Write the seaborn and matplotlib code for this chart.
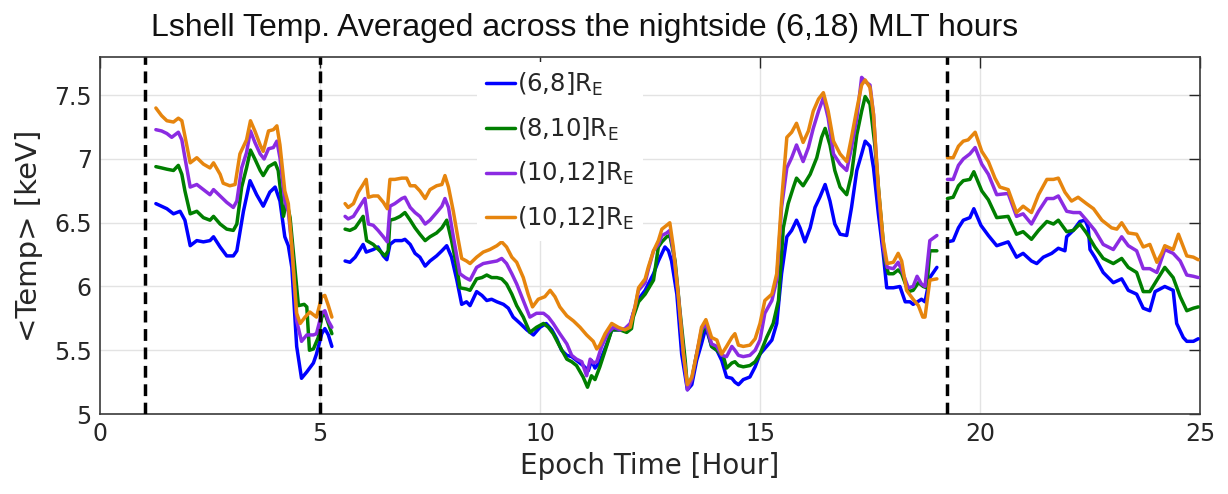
import matplotlib
matplotlib.use("Agg")
import matplotlib.pyplot as plt
from matplotlib.lines import Line2D
import pandas as pd
import seaborn as sns

# ---- Epoch time [hour] / mean temperature [keV], three observation segments per band ----
blue_t = [
    [1.27, 1.52, 1.67, 1.82, 1.93, 2.05, 2.20, 2.35, 2.50, 2.58, 2.73, 2.88, 3.03, 3.11, 3.26, 3.41, 3.56,
     3.71, 3.86, 3.98, 4.09, 4.20, 4.28, 4.36, 4.47, 4.58, 4.70, 4.85, 4.92, 5.04, 5.11, 5.19, 5.27],
    [5.57, 5.68, 5.80, 5.98, 6.05, 6.21, 6.32, 6.44, 6.52, 6.59, 6.70, 6.86, 6.93, 7.05, 7.16, 7.27, 7.39,
     7.50, 7.65, 7.77, 7.88, 7.99, 8.11, 8.22, 8.33, 8.41, 8.56, 8.68, 8.79, 8.90, 9.02, 9.17, 9.28, 9.39,
     9.55, 9.70, 9.85, 10.00, 10.14, 10.27, 10.38, 10.49,
     10.61, 10.72, 10.83, 10.98, 11.10, 11.17, 11.25, 11.36, 11.52, 11.63, 11.82, 11.97,
     12.05, 12.12, 12.24, 12.39, 12.58, 12.69, 12.84, 12.92, 12.99, 13.11, 13.22, 13.35, 13.45, 13.56,
     13.67, 13.77, 13.90, 14.02, 14.13, 14.24, 14.36, 14.43, 14.51, 14.62, 14.77, 14.89, 15.00, 15.15,
     15.27, 15.38, 15.49, 15.61, 15.72, 15.83, 15.91, 16.02, 16.14, 16.25, 16.36, 16.48, 16.59, 16.70,
     16.82, 16.97, 17.08, 17.20, 17.31, 17.39, 17.50, 17.58, 17.69, 17.80,
     17.88, 18.03, 18.18, 18.30, 18.41, 18.48, 18.58, 18.67, 18.75, 18.86, 19.02],
    [19.26, 19.39, 19.51, 19.62, 19.77, 19.86, 20.02, 20.19, 20.38, 20.64, 20.83, 20.98, 21.17, 21.29,
     21.44, 21.63, 21.78, 21.93, 21.97, 22.12, 22.27, 22.39, 22.46, 22.50, 22.61, 22.80, 23.03, 23.22,
     23.37, 23.56, 23.71, 23.86, 23.98, 24.20, 24.39, 24.47, 24.62, 24.70, 24.85, 24.96],
]
blue_v = [
    [6.65, 6.61, 6.57, 6.59, 6.52, 6.32, 6.36, 6.35, 6.36, 6.39, 6.31, 6.24, 6.24, 6.28, 6.59, 6.83, 6.72,
     6.63, 6.74, 6.78, 6.67, 6.39, 6.32, 6.15, 5.53, 5.28, 5.33, 5.40, 5.47, 5.63, 5.67, 5.62, 5.53],
    [6.20, 6.19, 6.23, 6.33, 6.27, 6.29, 6.31, 6.24, 6.21, 6.33, 6.36, 6.36, 6.37, 6.33, 6.26, 6.23, 6.16,
     6.20, 6.24, 6.28, 6.32, 6.23, 6.05, 5.86, 5.88, 5.85, 5.96, 5.93, 5.89, 5.90, 5.88, 5.86, 5.83, 5.76,
     5.71, 5.66, 5.62, 5.68, 5.71, 5.66, 5.59, 5.50,
     5.46, 5.45, 5.42, 5.38, 5.34, 5.42, 5.36, 5.41, 5.55, 5.66, 5.66, 5.66,
     5.70, 5.79, 5.90, 5.97, 6.10, 6.20, 6.31, 6.28, 6.20, 5.94, 5.47, 5.19, 5.23, 5.42,
     5.55, 5.68, 5.53, 5.50, 5.42, 5.29, 5.28, 5.25, 5.23, 5.27, 5.29, 5.37, 5.47, 5.53,
     5.58, 5.71, 6.10, 6.39, 6.44, 6.52, 6.46, 6.35, 6.46, 6.62, 6.70, 6.80, 6.67, 6.49,
     6.41, 6.40, 6.62, 6.91, 7.04, 7.14, 7.10, 6.93, 6.57, 6.26,
     5.99, 5.99, 6.00, 5.88, 5.88, 5.86, 5.88, 5.90, 5.88, 6.07, 6.15],
    [6.35, 6.36, 6.46, 6.52, 6.54, 6.61, 6.48, 6.40, 6.32, 6.35, 6.23, 6.26, 6.20, 6.18,
     6.23, 6.26, 6.30, 6.28, 6.39, 6.44, 6.51, 6.52, 6.46, 6.29, 6.23, 6.11, 6.03, 6.06,
     5.97, 5.94, 5.83, 5.81, 5.96, 6.00, 5.97, 5.71, 5.60, 5.57, 5.57, 5.59],
]

green_t = [
    [1.27, 1.40, 1.52, 1.67, 1.78, 1.86, 1.93, 2.05, 2.20, 2.35, 2.50, 2.58, 2.73, 2.88, 3.03, 3.11, 3.22,
     3.33, 3.42, 3.52, 3.64, 3.71, 3.83, 3.98, 4.05, 4.17, 4.24, 4.32, 4.51, 4.64, 4.70, 4.76, 4.85, 4.96,
     5.04, 5.11, 5.19, 5.27],
    [5.57, 5.68, 5.80, 5.98, 6.06, 6.21, 6.36, 6.48, 6.55, 6.59, 6.70, 6.82, 6.93, 7.05, 7.16, 7.27, 7.39,
     7.50, 7.65, 7.77, 7.88, 7.99, 8.11, 8.18, 8.33, 8.41, 8.56, 8.68, 8.79, 8.90, 9.02, 9.13, 9.24, 9.36,
     9.47, 9.62, 9.77, 9.92, 10.08, 10.19, 10.30, 10.45,
     10.61, 10.72, 10.83, 10.98, 11.08, 11.17, 11.25, 11.36, 11.52, 11.63, 11.82, 11.97, 12.08,
     12.12, 12.24, 12.39, 12.58, 12.69, 12.77, 12.88, 12.95, 13.07, 13.18, 13.30, 13.35, 13.45, 13.56,
     13.67, 13.77, 13.90, 14.02, 14.17, 14.24, 14.36, 14.43, 14.51, 14.62, 14.77, 14.89, 15.00, 15.15,
     15.30, 15.42, 15.53, 15.64, 15.76, 15.83, 15.98, 16.14, 16.29, 16.40, 16.48, 16.59, 16.70, 16.82,
     16.97, 17.08, 17.20, 17.31, 17.39, 17.50, 17.61, 17.73, 17.84, 17.92,
     18.03, 18.14, 18.22, 18.37, 18.48, 18.60, 18.71, 18.79, 18.86, 19.02],
    [19.26, 19.39, 19.51, 19.62, 19.77, 19.86, 20.04, 20.19, 20.38, 20.64, 20.83, 20.98, 21.17, 21.33,
     21.52, 21.67, 21.78, 21.97, 22.12, 22.27, 22.42, 22.61, 22.80, 23.03, 23.22, 23.37, 23.56, 23.71,
     23.86, 24.02, 24.20, 24.39, 24.55, 24.70, 24.85, 24.96],
]
green_v = [
    [6.94, 6.93, 6.92, 6.91, 6.95, 6.88, 6.75, 6.57, 6.59, 6.54, 6.52, 6.55, 6.49, 6.45, 6.44, 6.49, 6.78,
     6.93, 7.07, 7.00, 6.91, 6.87, 6.94, 6.97, 6.91, 6.55, 6.67, 6.54, 5.85, 5.86, 5.84, 5.50, 5.51, 5.60,
     5.76, 5.79, 5.71, 5.63],
    [6.45, 6.44, 6.46, 6.55, 6.36, 6.33, 6.28, 6.24, 6.28, 6.52, 6.53, 6.55, 6.58, 6.52, 6.46, 6.41, 6.36,
     6.39, 6.42, 6.46, 6.52, 6.36, 6.15, 5.99, 5.98, 5.97, 6.06, 6.07, 6.09, 6.07, 6.07, 6.06, 6.02, 5.94,
     5.85, 5.76, 5.64, 5.68, 5.71, 5.68, 5.63, 5.53,
     5.43, 5.41, 5.38, 5.29, 5.21, 5.30, 5.27, 5.37, 5.54, 5.66, 5.66, 5.64, 5.67,
     5.76, 5.88, 5.94, 6.05, 6.31, 6.35, 6.39, 6.40, 6.20, 5.81, 5.42, 5.21, 5.27, 5.47,
     5.63, 5.71, 5.53, 5.50, 5.45, 5.36, 5.40, 5.41, 5.38, 5.37, 5.38, 5.41, 5.47, 5.60,
     5.71, 5.89, 6.46, 6.65, 6.78, 6.85, 6.79, 6.88, 7.01, 7.17, 7.24, 7.11, 6.91, 6.78,
     6.72, 6.88, 7.19, 7.375, 7.49, 7.43, 7.11, 6.62, 6.20, 6.10,
     6.10, 6.13, 6.10, 5.96, 5.97, 6.03, 6.00, 5.99, 6.28, 6.28],
    [6.69, 6.70, 6.79, 6.83, 6.84, 6.90, 6.75, 6.68, 6.54, 6.55, 6.41, 6.43, 6.37, 6.44,
     6.51, 6.49, 6.52, 6.43, 6.44, 6.49, 6.42, 6.31, 6.22, 6.18, 6.22, 6.15, 6.11, 5.96,
     5.96, 6.05, 6.15, 6.07, 5.92, 5.81, 5.83, 5.84],
]

purple_t = [
    [1.27, 1.40, 1.52, 1.63, 1.78, 1.86, 1.93, 2.05, 2.20, 2.35, 2.50, 2.58, 2.73, 2.88, 3.03, 3.11, 3.22,
     3.33, 3.42, 3.52, 3.64, 3.73, 3.83, 3.94, 4.02, 4.09, 4.20, 4.28, 4.36, 4.47, 4.58, 4.70, 4.85, 4.92,
     5.04, 5.11, 5.19, 5.27],
    [5.57, 5.64, 5.76, 5.87, 5.98, 6.02, 6.10, 6.21, 6.32, 6.44, 6.53, 6.59, 6.70, 6.86, 6.93, 7.05, 7.16,
     7.27, 7.39, 7.50, 7.65, 7.77, 7.84, 7.92, 8.03, 8.18, 8.30, 8.41, 8.56, 8.71, 8.86, 9.02, 9.13, 9.24,
     9.36, 9.47, 9.62, 9.77, 9.92, 10.08, 10.19, 10.30, 10.45,
     10.61, 10.72, 10.83, 10.95, 11.06, 11.14, 11.21, 11.29, 11.40, 11.55, 11.67, 11.82, 11.93, 12.05,
     12.16, 12.24, 12.39, 12.46, 12.58, 12.69, 12.77, 12.88, 12.95, 13.03, 13.14, 13.26, 13.35, 13.45,
     13.56, 13.67, 13.77, 13.90, 14.02, 14.13, 14.24, 14.36, 14.43, 14.51, 14.62, 14.77, 14.89, 15.00,
     15.11, 15.27, 15.38, 15.49, 15.61, 15.72, 15.83, 15.98, 16.10, 16.21, 16.33, 16.44, 16.55, 16.67,
     16.82, 16.97, 17.08, 17.20, 17.31, 17.42, 17.50, 17.58, 17.69, 17.80, 17.89,
     18.03, 18.14, 18.22, 18.37, 18.48, 18.57, 18.67, 18.75, 18.86, 19.02],
    [19.26, 19.39, 19.51, 19.62, 19.77, 19.89, 20.04, 20.19, 20.38, 20.64, 20.83, 20.98, 21.17, 21.33,
     21.52, 21.67, 21.78, 21.97, 22.12, 22.27, 22.42, 22.61, 22.80, 23.03, 23.22, 23.37, 23.56, 23.71,
     23.86, 24.02, 24.20, 24.39, 24.55, 24.70, 24.85, 24.96],
]
purple_v = [
    [7.23, 7.22, 7.20, 7.17, 7.21, 7.15, 7.01, 6.78, 6.80, 6.76, 6.72, 6.76, 6.71, 6.66, 6.62, 6.67, 6.93,
     7.05, 7.22, 7.13, 7.04, 7.00, 7.08, 7.09, 7.14, 7.01, 6.67, 6.59, 6.31, 5.73, 5.57, 5.62, 5.62, 5.63,
     5.79, 5.81, 5.73, 5.68],
    [6.55, 6.53, 6.55, 6.61, 6.67, 6.69, 6.49, 6.48, 6.44, 6.39, 6.35, 6.63, 6.65, 6.69, 6.70, 6.62, 6.58,
     6.55, 6.49, 6.52, 6.58, 6.63, 6.69, 6.62, 6.39, 6.10, 6.07, 6.05, 6.15, 6.18, 6.19, 6.20, 6.22, 6.18,
     6.10, 6.02, 5.89, 5.76, 5.79, 5.79, 5.76, 5.71, 5.63,
     5.55, 5.46, 5.43, 5.41, 5.30, 5.43, 5.40, 5.41, 5.53, 5.64, 5.68, 5.66, 5.67, 5.71,
     5.84, 5.97, 6.03, 6.13, 6.28, 6.33, 6.40, 6.42, 6.44, 6.28, 5.94, 5.47, 5.19, 5.27,
     5.47, 5.66, 5.71, 5.55, 5.53, 5.46, 5.45, 5.53, 5.50, 5.46, 5.45, 5.46, 5.50, 5.58,
     5.79, 5.89, 6.05, 6.62, 6.93, 7.01, 7.11, 6.98, 7.09, 7.24, 7.375, 7.48, 7.32, 7.04,
     6.96, 6.91, 7.09, 7.32, 7.64, 7.60, 7.58, 7.35, 6.75, 6.31, 6.15,
     6.14, 6.19, 6.13, 5.99, 6.00, 6.08, 6.02, 6.00, 6.36, 6.40],
    [6.84, 6.84, 6.95, 7.00, 7.04, 7.09, 6.96, 6.88, 6.72, 6.73, 6.55, 6.57, 6.49, 6.59,
     6.69, 6.69, 6.71, 6.59, 6.58, 6.58, 6.52, 6.44, 6.33, 6.29, 6.39, 6.32, 6.28, 6.14,
     6.14, 6.11, 6.29, 6.26, 6.20, 6.09, 6.08, 6.07],
]

orange_t = [
    [1.27, 1.40, 1.52, 1.67, 1.78, 1.86, 1.93, 2.05, 2.20, 2.35, 2.50, 2.58, 2.73, 2.80, 2.95, 3.07, 3.18,
     3.33, 3.42, 3.52, 3.64, 3.71, 3.83, 3.94, 4.02, 4.09, 4.20, 4.28, 4.36, 4.47, 4.55, 4.66, 4.77, 4.92,
     5.04, 5.11, 5.19, 5.27],
    [5.57, 5.64, 5.76, 5.87, 5.98, 6.05, 6.10, 6.21, 6.32, 6.44, 6.53, 6.59, 6.70, 6.86, 6.97, 7.05, 7.16,
     7.27, 7.39, 7.50, 7.65, 7.77, 7.84, 7.92, 8.03, 8.14, 8.22, 8.33, 8.41, 8.56, 8.71, 8.86, 9.02, 9.13,
     9.24, 9.36, 9.47, 9.62, 9.73, 9.83, 9.96, 10.11, 10.23, 10.34, 10.45, 10.61, 10.76, 10.91, 11.06,
     11.21, 11.29, 11.36, 11.48, 11.63,
     11.78, 11.93, 12.05, 12.16, 12.24, 12.39, 12.46, 12.58, 12.69, 12.77, 12.88, 12.95, 13.03, 13.14,
     13.26, 13.35, 13.45, 13.56, 13.67, 13.77, 13.90, 14.02, 14.13, 14.24, 14.36, 14.43, 14.51, 14.62,
     14.77, 14.89, 15.00, 15.11, 15.27, 15.38, 15.49, 15.61, 15.72, 15.83, 15.98, 16.10, 16.21, 16.33,
     16.44, 16.55, 16.67, 16.82, 16.97, 17.08, 17.20, 17.31, 17.39, 17.50, 17.58, 17.69, 17.80, 17.89,
     18.03, 18.14, 18.22, 18.33, 18.48, 18.60, 18.70, 18.75, 18.86, 19.02],
    [19.26, 19.39, 19.51, 19.62, 19.73, 19.89, 20.04, 20.19, 20.34, 20.45, 20.64, 20.83, 20.98, 21.17,
     21.33, 21.52, 21.67, 21.78, 21.93, 22.08, 22.23, 22.42, 22.58, 22.77, 22.99, 23.11, 23.22, 23.37,
     23.56, 23.71, 23.86, 24.02, 24.13, 24.20, 24.39, 24.51, 24.70, 24.85, 24.96],
]
orange_v = [
    [7.40, 7.34, 7.30, 7.29, 7.32, 7.30, 7.18, 6.97, 7.01, 6.96, 6.93, 6.97, 6.88, 6.81, 6.79, 6.80, 7.04,
     7.15, 7.30, 7.22, 7.11, 7.06, 7.22, 7.23, 7.26, 7.11, 6.75, 6.65, 6.31, 5.79, 5.71, 5.76, 5.80, 5.76,
     5.92, 5.93, 5.85, 5.76],
    [6.65, 6.62, 6.65, 6.74, 6.80, 6.84, 6.70, 6.71, 6.71, 6.66, 6.61, 6.84, 6.84, 6.85, 6.85, 6.79, 6.79,
     6.75, 6.69, 6.76, 6.79, 6.80, 6.87, 6.78, 6.59, 6.37, 6.22, 6.20, 6.18, 6.23, 6.27, 6.29, 6.32, 6.35,
     6.31, 6.23, 6.19, 6.07, 5.94, 5.84, 5.90, 5.92, 5.97, 5.92, 5.84, 5.77, 5.73, 5.68, 5.62,
     5.57, 5.51, 5.54, 5.63, 5.71,
     5.68, 5.66, 5.68, 5.84, 5.99, 6.06, 6.15, 6.28, 6.36, 6.45, 6.48, 6.50, 6.31, 5.94,
     5.47, 5.23, 5.29, 5.47, 5.68, 5.74, 5.60, 5.58, 5.47, 5.53, 5.60, 5.63, 5.54, 5.53,
     5.54, 5.59, 5.71, 5.89, 5.94, 6.10, 6.67, 7.17, 7.21, 7.28, 7.13, 7.22, 7.375, 7.47,
     7.52, 7.375, 7.14, 7.04, 6.98, 7.17, 7.39, 7.58, 7.62, 7.56, 7.35, 6.78, 6.36, 6.18,
     6.19, 6.26, 6.20, 5.97, 5.90, 5.85, 5.76, 5.76, 6.05, 6.06],
    [7.01, 7.01, 7.10, 7.14, 7.15, 7.21, 7.06, 6.98, 6.85, 6.78, 6.76, 6.58, 6.63, 6.58,
     6.72, 6.84, 6.84, 6.85, 6.74, 6.67, 6.70, 6.65, 6.61, 6.52, 6.46, 6.45, 6.50, 6.42,
     6.41, 6.31, 6.33, 6.19, 6.26, 6.32, 6.29, 6.41, 6.24, 6.23, 6.21],
]

band_keys = ["r6_8", "r8_10", "r10_12a", "r10_12b"]
band_labels = [r"(6,8]R$_\mathregular{E}$", r"(8,10]R$_\mathregular{E}$",
               r"(10,12]R$_\mathregular{E}$", r"(10,12]R$_\mathregular{E}$"]
band_colors = ["#0000FF", "#007F00", "#8B2BE2", "#E6850E"]
event_hours = [1.02, 5.0, 19.24]
x_ticks = [0, 5, 10, 15, 20, 25]
y_ticks = [5, 5.5, 6, 6.5, 7, 7.5]

rows = []
for key, ts, vs in zip(band_keys, [blue_t, green_t, purple_t, orange_t],
                       [blue_v, green_v, purple_v, orange_v]):
    for seg, (t, v) in enumerate(zip(ts, vs)):
        for h, val in zip(t, v):
            rows.append({"band": key, "seg": seg, "hour": h, "temp": val})
df = pd.DataFrame(rows)

sns.set_style("white")
plt.rcParams["font.family"] = ["DejaVu Sans"]
plt.rcParams["mathtext.default"] = "regular"

fig = plt.figure(figsize=(12.28, 4.94), dpi=100)
ax = fig.add_axes([100 / 1228, 80 / 494, 1100 / 1228, 357 / 494])

for x in x_ticks[1:-1]:
    ax.axvline(x, color="#e3e3e3", lw=1.0, zorder=0)
for y in y_ticks[1:]:
    ax.axhline(y, color="#e3e3e3", lw=1.0, zorder=0)

sns.lineplot(data=df, x="hour", y="temp", hue="band", hue_order=band_keys,
             units="seg", estimator=None, sort=False,
             palette=dict(zip(band_keys, band_colors)), linewidth=2.5,
             legend=False, ax=ax, zorder=3)

for h in event_hours:
    ax.axvline(h, color="black", lw=2.5, ls=(0, (3.4, 1.9)), zorder=4)

ax.set_xlim(0, 25)
ax.set_ylim(5, 7.8)
ax.set_xticks(x_ticks)
ax.set_yticks(y_ticks)
ax.set_xticklabels([str(v) for v in x_ticks])
ax.set_yticklabels(["5", "5.5", "6", "6.5", "7", "7.5"])
ax.tick_params(direction="in", length=8, width=1, top=True, right=True,
               labelsize=17, colors="#262626", pad=6)
for sp in ax.spines.values():
    sp.set_color("#3a3a3a")
    sp.set_linewidth(1.2)

ax.set_xlabel("Epoch Time [Hour]", fontsize=20, color="#262626", labelpad=4)
ax.set_ylabel("<Temp> [keV]", fontsize=21, color="#262626", labelpad=8)

handles = [Line2D([0], [0], color=c, lw=2.5) for c in band_colors]
leg = ax.legend(handles, band_labels, loc="upper left", bbox_to_anchor=(0.343, 0.985),
                fontsize=17.5, frameon=True, framealpha=1, facecolor="white",
                edgecolor="none", handlelength=1.2, handletextpad=0.1,
                labelspacing=0.72, borderpad=0.35, borderaxespad=0)
leg.set_zorder(5)

fig.text(585 / 1228, 1 - 28 / 494, "Lshell Temp. Averaged across the nightside (6,18) MLT hours",
         ha="center", va="center", fontsize=23, color="#111111",
         family=["Liberation Sans Narrow", "Liberation Sans", "DejaVu Sans"])

fig.savefig("out.png", dpi=100)
